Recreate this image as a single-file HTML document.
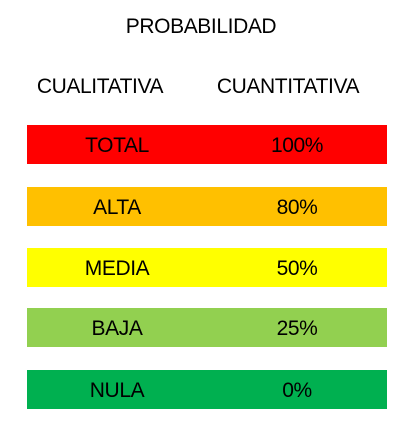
<!DOCTYPE html>
<html><head><meta charset="utf-8"><style>
body{margin:0;width:419px;height:440px;background:#fff;font-family:"Liberation Sans",sans-serif;position:relative;overflow:hidden}
.t{position:absolute;transform:translate(-50%,-50%);white-space:nowrap;color:#000;font-size:21px;letter-spacing:-0.4px}
.bar{position:absolute;left:27px;width:360px;height:39px}
</style></head><body>
<div class="t" style="left:201px;top:27px">PROBABILIDAD</div>
<div class="t" style="left:100px;top:87px">CUALITATIVA</div>
<div class="t" style="left:288px;top:87px">CUANTITATIVA</div>
<div id="rows"></div>
<script>
const labels=["TOTAL","ALTA","MEDIA","BAJA","NULA"];
const values=["100%","80%","50%","25%","0%"];
const colors=["#ff0000","#ffc000","#ffff00","#92d050","#00b050"];
const tops=[125,187,248,308,370];
const root=document.getElementById('rows');
labels.forEach((l,i)=>{
  const b=document.createElement('div');
  b.className='bar';b.style.top=tops[i]+'px';b.style.background=colors[i];
  
  
  root.appendChild(b);
  const a=document.createElement('div');
  a.className='t';a.style.left='117px';a.style.top=(tops[i]+21)+'px';a.textContent=l;
  
  
  root.appendChild(a);
  const v=document.createElement('div');
  v.className='t';v.style.left='297px';v.style.top=(tops[i]+21)+'px';v.textContent=values[i];
  
  
  root.appendChild(v);
});
</script>
</body></html>
